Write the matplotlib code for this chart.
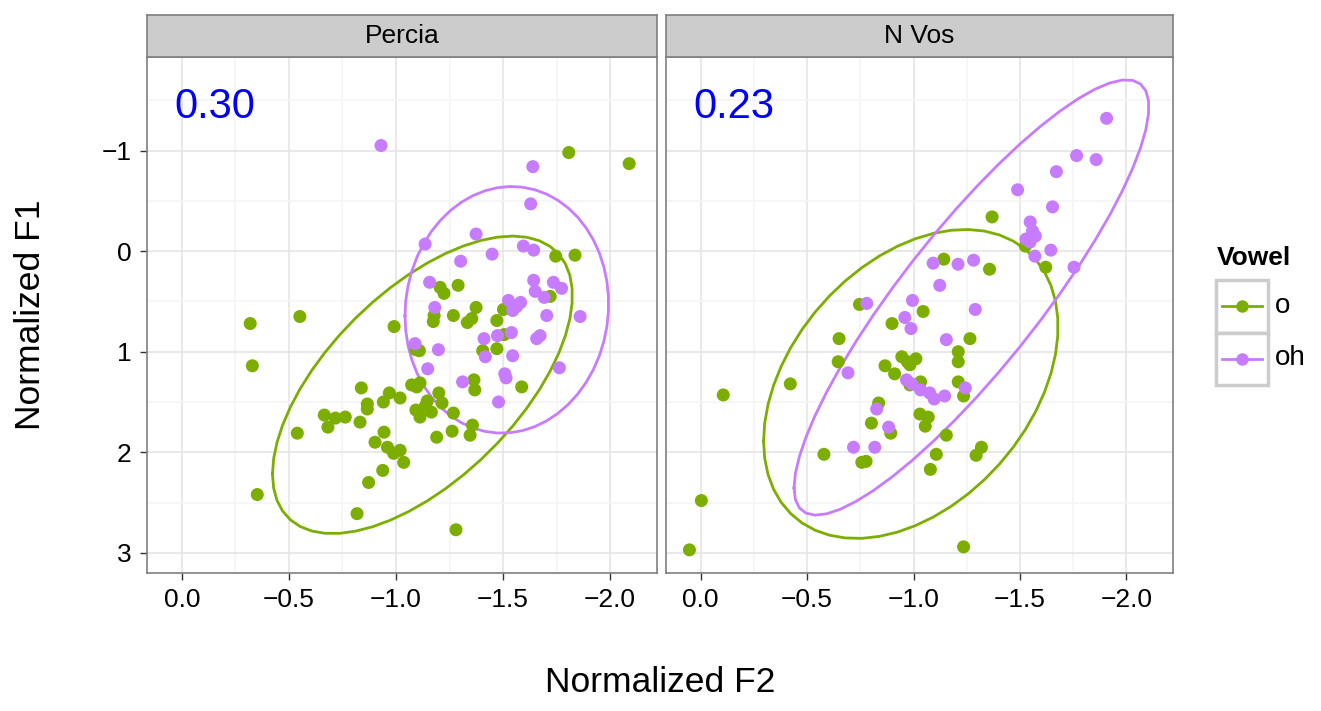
import numpy as np
import matplotlib
matplotlib.use("Agg")
import matplotlib.pyplot as plt
from matplotlib.patches import Rectangle
from matplotlib.lines import Line2D

plt.rcParams['font.family'] = ['Liberation Sans', 'DejaVu Sans']

GREEN = '#7CAE00'
PURPLE = '#C77CFF'

speakers = ['Percia', 'N Vos']
vowels = ['o', 'oh']
scores = ['0.30', '0.23']

# Percia, vowel o
percia_o_f2 = [-1.807, -2.089, -1.746, -1.836, -1.206, -1.224, -1.290, -1.720, -1.374, -1.502,
               -1.178, -1.174, -1.268, -1.354, -1.333, -1.471, -0.991, -1.505, -1.109, -1.093,
               -1.405, -1.471, -1.364, -1.368, -1.587, -0.838, -1.073, -1.112, -1.097, -0.969,
               -0.941, -1.019, -0.866, -0.866, -0.763, -0.832, -1.093, -1.146, -1.165, -1.112,
               -1.200, -1.215, -1.137, -1.268, -1.357, -1.346, -1.262, -1.190, -0.944, -0.902,
               -0.960, -1.019, -0.989, -1.036, -0.938, -0.872, -0.352, -0.818, -1.280, -0.319,
               -0.551, -0.329, -0.665, -0.717, -0.682, -0.539]
percia_o_f1 = [-0.98, -0.87, 0.05, 0.04, 0.36, 0.42, 0.34, 0.45, 0.56, 0.58,
               0.64, 0.70, 0.64, 0.67, 0.71, 0.69, 0.75, 0.83, 0.99, 0.98,
               0.99, 0.97, 1.28, 1.38, 1.35, 1.36, 1.33, 1.31, 1.35, 1.41,
               1.50, 1.46, 1.52, 1.57, 1.65, 1.70, 1.58, 1.49, 1.60, 1.65,
               1.41, 1.51, 1.54, 1.61, 1.73, 1.83, 1.79, 1.85, 1.80, 1.90,
               1.95, 1.98, 2.01, 2.10, 2.18, 2.30, 2.42, 2.61, 2.77, 0.72,
               0.65, 1.14, 1.63, 1.66, 1.75, 1.81]

# Percia, vowel oh
percia_oh_f2 = [-0.930, -1.639, -1.629, -1.374, -1.136, -1.595, -1.643, -1.449, -1.302, -1.157,
                -1.643, -1.735, -1.773, -1.650, -1.692, -1.181, -1.525, -1.582, -1.545, -1.564,
                -1.860, -1.704, -1.539, -1.474, -1.411, -1.673, -1.657, -1.089, -1.198, -1.417,
                -1.545, -1.148, -1.763, -1.508, -1.514, -1.311, -1.479]
percia_oh_f1 = [-1.05, -0.84, -0.47, -0.17, -0.07, -0.05, -0.01, 0.03, 0.10, 0.31,
                0.29, 0.31, 0.37, 0.40, 0.46, 0.56, 0.49, 0.51, 0.59, 0.55,
                0.65, 0.64, 0.81, 0.84, 0.87, 0.84, 0.87, 0.92, 0.98, 1.05,
                1.04, 1.17, 1.16, 1.22, 1.26, 1.30, 1.50]

# N Vos, vowel o
nvos_o_f2 = [-1.369, -1.525, -1.621, -1.142, -1.357, -0.746, -1.045, -0.899, -0.650, -1.265,
             -1.210, -1.210, -0.646, -0.945, -0.971, -1.011, -0.983, -0.866, -0.911, -0.421,
             -0.106, -1.033, -0.983, -1.210, -1.235, -0.836, -1.030, -1.069, -1.055, -0.802,
             -0.893, -1.154, -0.579, -1.319, -1.294, -1.107, -0.757, -0.777, -1.079, -0.003,
             0.053, -1.235]
nvos_o_f1 = [-0.34, -0.05, 0.16, 0.08, 0.18, 0.53, 0.60, 0.72, 0.87, 0.87,
             1.00, 1.10, 1.10, 1.05, 1.10, 1.07, 1.13, 1.14, 1.22, 1.32,
             1.43, 1.30, 1.33, 1.30, 1.44, 1.51, 1.62, 1.65, 1.74, 1.71,
             1.81, 1.83, 2.02, 1.95, 2.03, 2.02, 2.10, 2.09, 2.17, 2.48,
             2.97, 2.94]

# N Vos, vowel oh
nvos_oh_f2 = [-1.907, -1.766, -1.858, -1.671, -1.489, -1.653, -1.548, -1.559, -1.572, -1.528,
              -1.547, -1.645, -1.570, -1.754, -1.092, -1.209, -1.282, -1.123, -0.995, -0.780,
              -1.290, -0.959, -0.988, -1.154, -0.692, -0.967, -0.991, -1.033, -1.076, -1.097,
              -1.146, -1.243, -0.827, -0.883, -0.718, -0.818]
nvos_oh_f1 = [-1.32, -0.95, -0.91, -0.79, -0.61, -0.44, -0.29, -0.20, -0.15, -0.12,
              -0.09, -0.01, 0.05, 0.16, 0.12, 0.13, 0.09, 0.34, 0.49, 0.52,
              0.58, 0.66, 0.77, 0.88, 1.21, 1.28, 1.32, 1.38, 1.41, 1.47,
              1.44, 1.36, 1.57, 1.75, 1.95, 1.95]

data = {
    'Percia': [(percia_o_f2, percia_o_f1), (percia_oh_f2, percia_oh_f1)],
    'N Vos': [(nvos_o_f2, nvos_o_f1), (nvos_oh_f2, nvos_oh_f1)],
}
colors = [GREEN, PURPLE]


def cov_trob(xy, nu=5, maxit=25, tol=0.01):
    # multivariate t estimate, like MASS::cov.trob
    n, p = xy.shape
    loc = xy.mean(axis=0)
    w = np.ones(n)
    X = xy - loc
    for _ in range(maxit):
        w0 = w
        X = xy - loc
        _, d, vt = np.linalg.svd(np.sqrt(w / w.sum())[:, None] * X, full_matrices=False)
        wX = X @ vt.T @ np.diag(1 / d)
        Q = (wX ** 2).sum(axis=1)
        w = (nu + p) / (nu + Q)
        loc = (w[:, None] * xy).sum(axis=0) / w.sum()
        if np.all(np.abs(w - w0) < tol):
            break
    sX = np.sqrt(w)[:, None] * X
    return loc, sX.T @ sX / n


def ellipse_path(x, y, level=0.95, segments=51):
    xy = np.column_stack([x, y])
    n = len(xy)
    center, shape = cov_trob(xy)
    dfd = n - 1
    qf = dfd / 2 * ((1 - level) ** (-2 / dfd) - 1)
    radius = np.sqrt(2 * qf)
    ang = np.linspace(0, 2 * np.pi, segments + 1)
    circ = np.column_stack([np.cos(ang), np.sin(ang)])
    L = np.linalg.cholesky(shape)
    pts = center + radius * (circ @ L.T)
    return pts[:, 0], pts[:, 1]


fig = plt.figure(figsize=(13.21, 7.11), dpi=100)
W, H = 1321, 711
panels = [(147, 657), (666, 1173)]
top, bottom = 57, 573
strip_top = 15

for k, spk in enumerate(speakers):
    x0, x1 = panels[k]
    ax = fig.add_axes([x0 / W, 1 - bottom / H, (x1 - x0) / W, (bottom - top) / H])
    ax.set_xlim(0.163, -2.219)
    ax.set_ylim(3.20, -1.93)
    ax.set_xticks([0, -0.5, -1.0, -1.5, -2.0])
    ax.set_xticks([-0.25, -0.75, -1.25, -1.75], minor=True)
    ax.set_yticks([-1, 0, 1, 2, 3])
    ax.set_yticks([-1.5, -0.5, 0.5, 1.5, 2.5], minor=True)
    ax.grid(which='major', color='#E5E5E5', lw=1.2)
    ax.grid(which='minor', color='#F5F5F5', lw=1.2)
    ax.set_axisbelow(True)
    ax.tick_params(which='major', length=5, width=1, color='#333333', labelsize=19,
                   labelcolor='black', pad=6)
    ax.tick_params(which='minor', length=0)
    ax.set_xticklabels(['0.0', '\u22120.5', '\u22121.0', '\u22121.5', '\u22122.0'])
    if k == 0:
        ax.set_yticklabels(['\u22121', '0', '1', '2', '3'])
    else:
        ax.tick_params(axis='y', labelleft=False, length=0)
    for s in ax.spines.values():
        s.set_color('#7F7F7F')
        s.set_linewidth(1.2)

    for (fx, fy), c in zip(data[spk], colors):
        ex, ey = ellipse_path(fx, fy)
        ax.plot(ex, ey, color=c, lw=2.0, zorder=2)
    for (fx, fy), c in zip(data[spk], colors):
        ax.scatter(fx, fy, s=88, color=c, edgecolors='none', zorder=3)

    ax.text(0.033, -1.43, scores[k], color='#0000FF', fontsize=30, ha='left', va='center')

    sax = fig.add_axes([x0 / W, 1 - top / H, (x1 - x0) / W, (top - strip_top) / H])
    sax.set_xticks([])
    sax.set_yticks([])
    sax.set_facecolor('#CCCCCC')
    for s in sax.spines.values():
        s.set_color('#7F7F7F')
        s.set_linewidth(1.2)
    sax.text(0.5, 0.5, spk, ha='center', va='center', fontsize=19, transform=sax.transAxes)

fig.text(660 / W, 1 - 683 / H, 'Normalized F2', ha='center', va='center', fontsize=25.5)
fig.text(30 / W, 1 - 315 / H, 'Normalized F1', ha='center', va='center', fontsize=25.5,
         rotation=90)

# legend
fig.text(1217 / W, 1 - 258 / H, 'Vowel', fontsize=19, fontweight='bold', ha='left', va='center')
lax = fig.add_axes([1216 / W, 1 - 385 / H, 52 / W, 105 / H])
lax.set_xlim(0, 1)
lax.set_ylim(0, 2)
lax.axis('off')
for i, (v, c) in enumerate(zip(vowels, colors)):
    yb = 1 - i
    lax.add_patch(Rectangle((0, yb), 1, 1, facecolor='white', edgecolor='#CCCCCC', lw=2.5,
                            clip_on=False))
    lax.add_line(Line2D([0.12, 0.88], [yb + 0.5, yb + 0.5], color=c, lw=2.0))
    lax.plot([0.5], [yb + 0.5], 'o', color=c, ms=9, mec='none')
    fig.text(1275 / W, 1 - (306 + 52 * i) / H, v, fontsize=20, ha='left', va='center')

fig.savefig('out.png', dpi=100)
